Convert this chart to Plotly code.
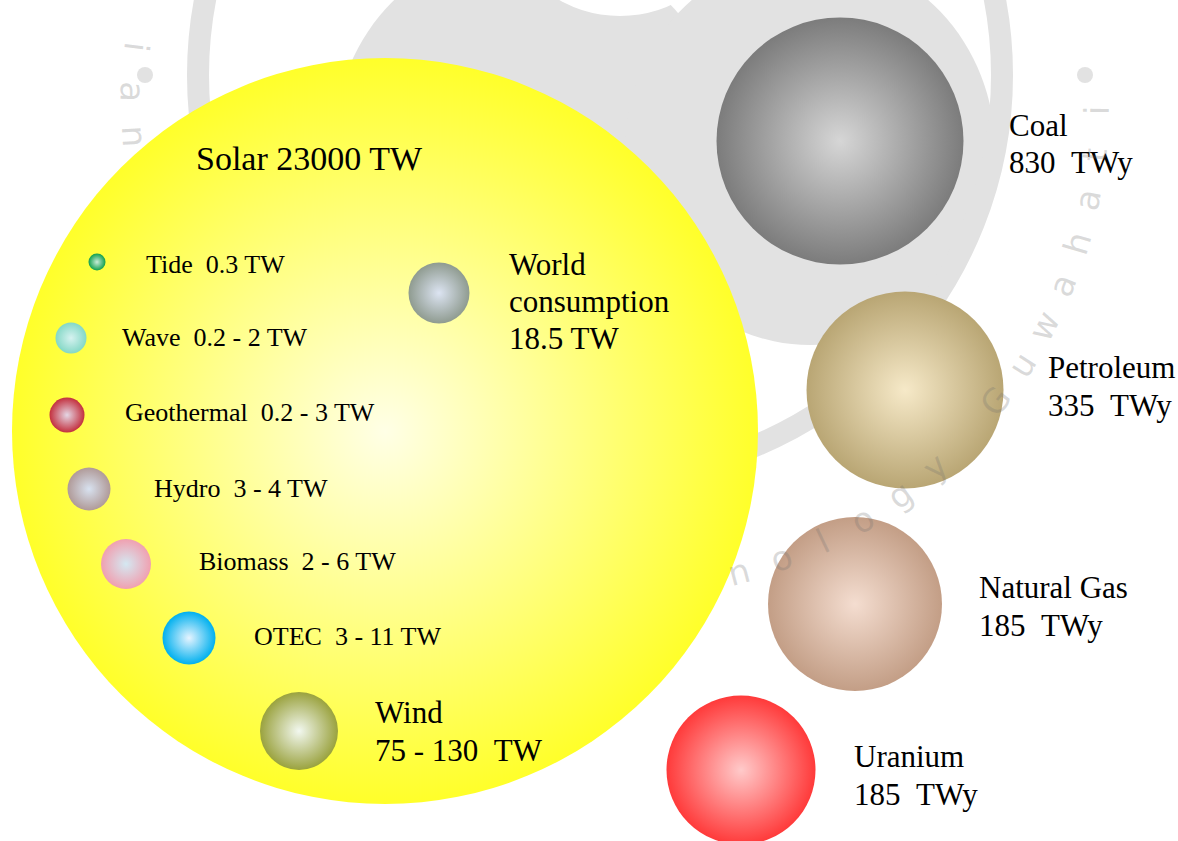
import math
import plotly.graph_objects as go

W, H = 1178, 841

# ---------------- data (labels) ----------------
solar_name = "Solar"
solar_value = "23000 TW"

renew_names = ["Tide", "Wave", "Geothermal", "Hydro", "Biomass", "OTEC"]
renew_values = ["0.3 TW", "0.2 - 2 TW", "0.2 - 3 TW", "3 - 4 TW", "2 - 6 TW", "3 - 11 TW"]

wind_lines = ["Wind", "75 - 130\u00a0\u00a0TW"]
world_lines = ["World", "consumption", "18.5 TW"]

fossil_names = ["Coal", "Petroleum", "Natural Gas", "Uranium"]
fossil_values = ["830\u00a0\u00a0TWy", "335\u00a0\u00a0TWy", "185\u00a0\u00a0TWy", "185\u00a0\u00a0TWy"]

# ---------------- layout (positions / sizes / colours) ----------------
sun_pos = (385, 431)
sun_d = 746
sun_colors = ("#ffff2a", "#ffffe6")  # edge, centre
solar_lbl_pos = (194, 158)

renew_cx = [97, 71, 67, 89, 126, 189]
renew_cy = [262, 338, 415, 489, 564, 638]
renew_d = [17, 31, 35, 43, 50, 53]
renew_edge = ["#10a04c", "#84d8c6", "#c3303e", "#b09a98", "#f0a0b0", "#00b0ee"]
renew_center = ["#c8ecd8", "#d6f2f0", "#e4d6e4", "#d8e2f0", "#d4e8f2", "#e6f4ff"]
renew_lx = [144, 120, 123, 152, 197, 252]
renew_ly = [264, 337, 412, 488, 561, 636]

wind_pos = (299, 731)
wind_d = 78
wind_colors = ("#9aa23e", "#f2f8f0")
wind_lbl_x = 373
wind_lbl_y = [712, 750]

world_pos = (439, 293)
world_d = 61
world_colors = ("#8f9b90", "#dce4f2")
world_lbl_x = 507
world_lbl_y = [264, 301, 338]

fossil_cx = [840, 905, 855, 741]
fossil_cy = [141, 390, 604, 770]
fossil_d = [247, 197, 174, 149]
fossil_edge = ["#7c7c7c", "#b9a674", "#c39e86", "#ff3a3a"]
fossil_center = ["#d6d6d6", "#f6e9c8", "#f4ddd0", "#ffcaca"]
fossil_lx = [1007, 1046, 977, 852]
fossil_ly1 = [125, 367, 587, 756]
fossil_ly2 = [162, 405, 625, 794]

SERIF = "Liberation Serif, Times New Roman, serif"
BIG = 31
SMALL = 26

fig = go.Figure()


def ball(x, y, d, edge, centre):
    fig.add_trace(go.Scatter(
        x=[x], y=[y], mode="markers", hoverinfo="skip",
        marker=dict(size=d, color=edge, line=dict(width=0),
                    gradient=dict(type="radial", color=centre)),
    ))


ball(sun_pos[0], sun_pos[1], sun_d, *sun_colors)
for i in range(len(renew_names)):
    ball(renew_cx[i], renew_cy[i], renew_d[i], renew_edge[i], renew_center[i])
ball(world_pos[0], world_pos[1], world_d, *world_colors)
ball(wind_pos[0], wind_pos[1], wind_d, *wind_colors)
for i in range(len(fossil_names)):
    ball(fossil_cx[i], fossil_cy[i], fossil_d[i], fossil_edge[i], fossil_center[i])

ann = []


def label(x, y, text, size):
    ann.append(dict(x=x, y=y, xref="x", yref="y", text=text, showarrow=False,
                    xanchor="left", yanchor="middle", align="left",
                    font=dict(family=SERIF, size=size, color="black")))


label(solar_lbl_pos[0], solar_lbl_pos[1], f"{solar_name} {solar_value}", 34)
for i in range(len(renew_names)):
    label(renew_lx[i], renew_ly[i], f"{renew_names[i]}\u00a0\u00a0{renew_values[i]}", SMALL)
for t, y in zip(world_lines, world_lbl_y):
    label(world_lbl_x, y, t, BIG)
for t, y in zip(wind_lines, wind_lbl_y):
    label(wind_lbl_x, y, t, BIG)
for i in range(len(fossil_names)):
    label(fossil_lx[i], fossil_ly1[i], fossil_names[i], BIG)
    label(fossil_lx[i], fossil_ly2[i], fossil_values[i], BIG)

# ---------------- faint watermark seal ----------------
WM = "#e2e2e2"
shapes = [
    dict(type="circle", xref="x", yref="y", x0=530 - 195, x1=530 + 195, y0=140 - 195, y1=140 + 195,
         fillcolor=WM, line=dict(width=0), layer="below"),
    dict(type="circle", xref="x", yref="y", x0=810 - 185, x1=810 + 185, y0=150 - 195, y1=150 + 195,
         fillcolor=WM, line=dict(width=0), layer="below"),
    dict(type="circle", xref="x", yref="y", x0=520, x1=720, y0=-140, y1=16,
         fillcolor="white", line=dict(width=0), layer="below"),
    dict(type="circle", xref="x", yref="y", x0=600 - 402, x1=600 + 402, y0=75 - 402, y1=75 + 402,
         fillcolor="rgba(0,0,0,0)", line=dict(width=22, color=WM), layer="below"),
    dict(type="circle", xref="x", yref="y", x0=137, x1=153, y0=67, y1=83,
         fillcolor=WM, line=dict(width=0), layer="below"),
    dict(type="circle", xref="x", yref="y", x0=1077, x1=1093, y0=67, y1=83,
         fillcolor=WM, line=dict(width=0), layer="below"),
]

seal_text = "Indian Institute of Technology Guwahati"
scx, scy, sR = 615, 106, 482
step = 5.33
n = len(seal_text)
for i, ch in enumerate(seal_text):
    if ch == " ":
        continue
    th = 0.5 + (n - 1 - i) * step
    px = scx + sR * math.cos(math.radians(th))
    py = scy + sR * math.sin(math.radians(th))
    if math.hypot(px - sun_pos[0], py - sun_pos[1]) < sun_d / 2 + 5:
        continue
    if px < 20 or px > W - 20 or py < 22 or py > H - 20:
        continue
    ann.append(dict(x=px, y=py, xref="x", yref="y", text=ch, showarrow=False,
                    textangle=th - 90, xanchor="center", yanchor="middle",
                    font=dict(family="DejaVu Sans, sans-serif", size=34,
                              color="rgba(110,110,110,0.25)")))

fig.update_layout(
    width=W, height=H,
    margin=dict(l=0, r=0, t=0, b=0),
    paper_bgcolor="white", plot_bgcolor="white",
    showlegend=False,
    xaxis=dict(range=[0, W], visible=False, fixedrange=True),
    yaxis=dict(range=[H, 0], visible=False, fixedrange=True),
    annotations=ann,
    shapes=shapes,
)

fig.write_html("out.html")
